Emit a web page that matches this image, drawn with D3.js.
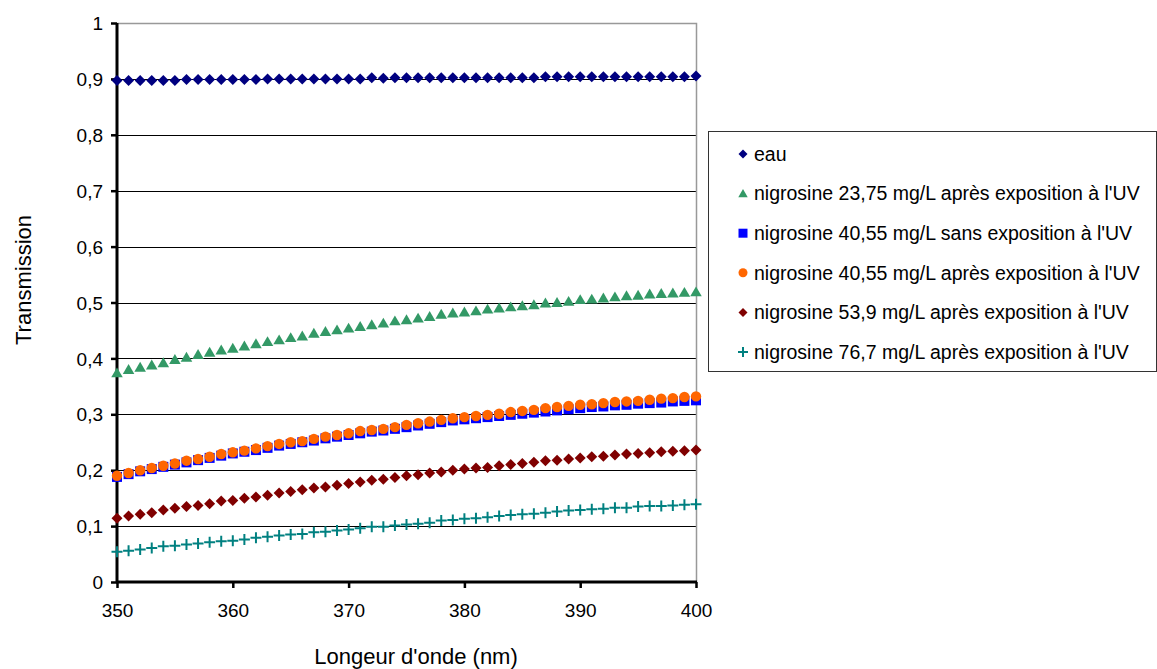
<!DOCTYPE html>
<html><head><meta charset="utf-8">
<script src="https://cdn.jsdelivr.net/npm/d3@7"></script>
<style>body{margin:0;background:#fff}svg{display:block}text{font-family:"Liberation Sans",Arial,sans-serif}</style>
</head><body><svg id="c" width="1157" height="669"></svg>
<script>
const wavelengths = d3.range(350, 401, 1);
const xTicks = [350, 360, 370, 380, 390, 400];
const yTicks = [0, 0.1, 0.2, 0.3, 0.4, 0.5, 0.6, 0.7, 0.8, 0.9, 1];
const seriesNames = ["eau","nigrosine 23,75 mg/L après exposition à l'UV","nigrosine 40,55 mg/L sans exposition à l'UV","nigrosine 40,55 mg/L après exposition à l'UV","nigrosine 53,9 mg/L après exposition à l'UV","nigrosine 76,7 mg/L après exposition à l'UV"];
const eau = [0.897,0.897,0.897,0.897,0.897,0.897,0.899,0.899,0.899,0.899,0.899,0.899,0.899,0.900,0.900,0.900,0.900,0.900,0.900,0.900,0.900,0.900,0.902,0.901,0.902,0.902,0.902,0.902,0.902,0.902,0.902,0.902,0.902,0.902,0.902,0.902,0.902,0.904,0.904,0.904,0.904,0.904,0.904,0.904,0.904,0.904,0.904,0.904,0.904,0.904,0.905];
const ngr2375 = [0.374,0.380,0.384,0.388,0.392,0.398,0.402,0.407,0.411,0.415,0.418,0.422,0.426,0.430,0.433,0.437,0.440,0.445,0.448,0.451,0.454,0.457,0.460,0.463,0.467,0.469,0.472,0.475,0.479,0.481,0.483,0.485,0.488,0.490,0.492,0.494,0.496,0.499,0.500,0.502,0.505,0.506,0.508,0.510,0.512,0.513,0.515,0.516,0.517,0.518,0.519];
const ngr4055sans = [0.188,0.193,0.198,0.202,0.206,0.210,0.214,0.218,0.222,0.226,0.230,0.233,0.236,0.240,0.244,0.247,0.250,0.253,0.257,0.260,0.263,0.266,0.269,0.271,0.274,0.277,0.280,0.283,0.286,0.289,0.291,0.293,0.295,0.297,0.299,0.301,0.303,0.305,0.307,0.309,0.311,0.313,0.314,0.316,0.317,0.319,0.320,0.321,0.323,0.324,0.325];
const ngr4055apres = [0.190,0.195,0.200,0.204,0.208,0.212,0.217,0.220,0.224,0.229,0.232,0.235,0.239,0.243,0.247,0.250,0.252,0.256,0.260,0.263,0.266,0.270,0.272,0.274,0.277,0.281,0.284,0.287,0.290,0.293,0.295,0.297,0.299,0.301,0.304,0.306,0.308,0.311,0.313,0.315,0.317,0.318,0.320,0.322,0.323,0.324,0.326,0.328,0.329,0.331,0.332];
const ngr539 = [0.114,0.118,0.121,0.124,0.129,0.132,0.135,0.137,0.140,0.145,0.146,0.150,0.152,0.155,0.159,0.162,0.165,0.168,0.170,0.173,0.176,0.179,0.182,0.184,0.187,0.190,0.192,0.195,0.197,0.200,0.202,0.204,0.205,0.208,0.210,0.212,0.214,0.217,0.218,0.220,0.222,0.224,0.225,0.227,0.229,0.230,0.231,0.233,0.234,0.235,0.236];
const ngr767 = [0.054,0.056,0.058,0.061,0.064,0.065,0.067,0.069,0.071,0.073,0.074,0.076,0.079,0.081,0.083,0.085,0.086,0.089,0.090,0.092,0.094,0.096,0.099,0.099,0.101,0.103,0.104,0.106,0.110,0.111,0.113,0.114,0.116,0.118,0.120,0.121,0.122,0.124,0.126,0.128,0.129,0.130,0.131,0.133,0.133,0.135,0.136,0.136,0.137,0.138,0.139];

const svg = d3.select("#c");
const L = 117, R = 696, T = 23, B = 582;
const x = d3.scaleLinear().domain([350, 400]).range([L, R]);
const y = d3.scaleLinear().domain([0, 1]).range([B, T]);
const fmt = d => String(d).replace(".", ",");

// gridlines
svg.append("g").selectAll("line").data(yTicks.filter(d => d > 0 && d < 1)).join("line")
  .attr("x1", L).attr("x2", R).attr("y1", d => Math.round(y(d)) + 0.5).attr("y2", d => Math.round(y(d)) + 0.5)
  .attr("stroke", "#000").attr("stroke-width", 1);
// top and right border
svg.append("path").attr("d", `M${L},${Math.round(T)+0.5}H${R+0.5}V${B}`).attr("fill", "none").attr("stroke", "#999").attr("stroke-width", 1.5);

// axes
const ya = svg.append("g").attr("transform", `translate(${L},0)`)
  .call(d3.axisLeft(y).tickValues(yTicks).tickSize(6).tickPadding(8).tickFormat(fmt));
const xa = svg.append("g").attr("transform", `translate(0,${B})`)
  .call(d3.axisBottom(x).tickValues(xTicks).tickSize(6).tickPadding(16).tickFormat(d3.format("d")));
[ya, xa].forEach(a => {
  a.select(".domain").attr("stroke", "#000").attr("stroke-width", 3);
  a.selectAll(".tick line").attr("stroke", "#000").attr("stroke-width", 2.5);
  a.selectAll(".tick text").attr("fill", "#000").style("font-size", "19px");
});
ya.select(".domain").attr("d", `M0,${B+1}V${T}`);
ya.selectAll(".tick text").attr("dy", "0.35em");
xa.select(".domain").attr("d", `M${L-1},0H${R+1}`);

// titles
svg.append("text").attr("x", 416).attr("y", 664).attr("text-anchor", "middle").style("font-size", "22px").text("Longeur d'onde (nm)");
svg.append("text").attr("transform", `translate(31,280) rotate(-90)`).attr("text-anchor", "middle").style("font-size", "22px").text("Transmission");

// marker shapes
const shapes = {
  diamond: (s) => `M0,${-s}L${s},0L0,${s}L${-s},0Z`,
  triangle: (s) => `M0,${-s}L${s*1.05},${s*0.8}L${-s*1.05},${s*0.8}Z`,
  square: (s) => `M${-s},${-s}H${s}V${s}H${-s}Z`,
  plus: (s) => `M${-s},0H${s}M0,${-s}V${s}`
};
const series = [
  {name: seriesNames[0], values: eau, shape: "diamond", size: 5.5, color: "#000080"},
  {name: seriesNames[1], values: ngr2375, shape: "triangle", size: 5.5, color: "#339966"},
  {name: seriesNames[2], values: ngr4055sans, shape: "square", size: 5, color: "#0000FF"},
  {name: seriesNames[3], values: ngr4055apres, shape: "circle", size: 5.2, color: "#FF6600"},
  {name: seriesNames[4], values: ngr539, shape: "diamond", size: 5.5, color: "#800000"},
  {name: seriesNames[5], values: ngr767, shape: "plus", size: 5.5, color: "#008080"}
];
function drawMarker(g, s) {
  if (s.shape === "circle") {
    g.append("circle").attr("r", s.size).attr("fill", s.color);
  } else if (s.shape === "plus") {
    g.append("path").attr("d", shapes.plus(s.size)).attr("stroke", s.color).attr("stroke-width", 2).attr("fill", "none");
  } else {
    g.append("path").attr("d", shapes[s.shape](s.size)).attr("fill", s.color);
  }
}
series.forEach(s => {
  const g = svg.append("g");
  s.values.forEach((v, i) => {
    const m = g.append("g").attr("transform", `translate(${x(wavelengths[i])},${y(v)})`);
    drawMarker(m, s);
  });
});

// legend
const lg = svg.append("g");
lg.append("rect").attr("x", 708.5).attr("y", 131.5).attr("width", 448).attr("height", 240).attr("fill", "#fff").attr("stroke", "#333").attr("stroke-width", 1);
series.forEach((s, i) => {
  const cy = 154 + i * 39.6;
  const m = lg.append("g").attr("transform", `translate(743,${cy})`);
  drawMarker(m, {...s, size: s.shape === "plus" ? 5 : 4.5});
  lg.append("text").attr("x", 754).attr("y", cy).attr("dy", "0.35em").style("font-size", "19.5px").text(s.name);
});
</script></body></html>
